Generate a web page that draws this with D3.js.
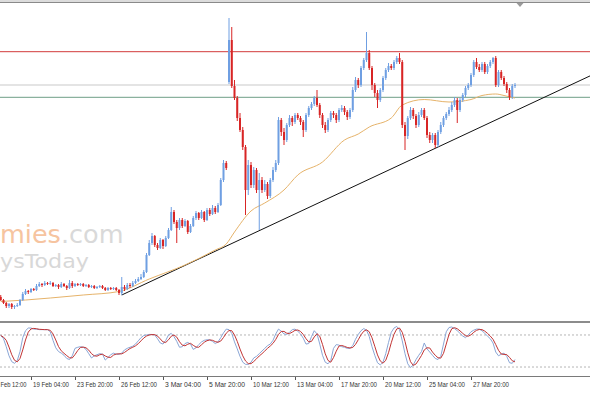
<!DOCTYPE html>
<html><head><meta charset="utf-8">
<script src="https://cdn.jsdelivr.net/npm/d3@7"></script>
<style>html,body{margin:0;padding:0;background:#fff;overflow:hidden}</style>
</head><body>
<svg id="c" width="590" height="393"></svg>
<script>
// ---- data (H4 bars; price units arbitrary) ----
const firstBar = "2015-02-17T08:00:00Z";
const opens = [
33,30,27,24,26,23,24,25,30,36, 39,38,41,40,44,46,45,47,46,47,
44,45,43,46,44,42,47,44,46,45, 46,44,45,43,44,42,43,44,42,40,
42,41,42,40,37,43,41,45,44,47, 49,51,53,58,75,87,94,85,82,90,
84,92,100,118,108,102,110,104,109,98, 104,112,117,112,118,110,120,116,122,118,
125,150,167,248,290,244,232,212,200,183, 140,165,145,160,140,150,140,146,134,150,
160,167,210,198,190,205,212,208,215,212, 208,200,215,222,226,232,225,215,205,200,
210,217,215,210,220,222,218,213,220,240, 250,245,262,270,277,262,245,237,230,240,
252,260,264,262,268,272,268,205,194,212, 220,214,205,215,220,212,195,190,195,185,
198,205,212,216,220,225,230,220,230,235, 242,245,255,268,263,260,266,258,264,268,
272,245,258,252,246,240,233,244];
const highs = [
35,31,28,27,27,25,27,31,38,41, 40,42,42,46,48,47,49,48,49,48,
46,46,48,47,45,50,49,47,47,47, 47,46,46,45,45,44,45,45,43,43,
43,43,43,41,53,45,47,47,49,51, 53,56,60,77,90,97,95,87,92,91,
94,102,123,120,110,112,112,111,110,106, 114,119,118,120,119,122,122,125,124,127,
152,170,169,312,303,250,234,217,203,185, 170,168,163,162,157,153,150,148,152,163,
170,213,212,202,207,215,214,217,217,214, 210,217,224,228,234,240,227,217,208,212,
219,219,217,222,225,224,220,222,243,253, 252,264,272,298,280,264,247,240,242,254,
262,267,266,270,274,277,270,208,214,223, 222,216,218,222,222,214,198,197,197,200,
208,214,218,223,228,233,232,232,237,244, 247,257,270,272,266,268,268,266,270,273,
274,260,260,254,248,242,246,247];
const lows = [
29,26,22,22,21,21,23,24,29,35, 36,37,39,39,43,43,44,45,45,43,
43,41,42,43,40,41,42,43,44,44, 43,43,42,42,41,41,42,41,39,39,
40,40,39,35,35,39,40,42,43,46, 48,50,52,57,74,85,83,80,81,81,
83,91,99,106,87,100,102,103,96,97, 103,110,110,111,108,109,114,115,116,117,
124,148,160,246,242,230,209,198,180,115, 135,142,142,137,100,137,138,131,132,148,
158,165,194,185,188,203,204,206,210,205, 193,198,213,220,224,223,212,202,197,198,
208,212,207,208,218,215,210,211,218,238, 242,243,260,268,260,240,233,222,228,238,
250,258,260,260,266,266,202,180,191,210, 211,202,203,213,210,192,187,187,182,183,
196,203,210,214,218,223,207,218,228,233, 240,243,253,261,258,258,256,256,262,266,
243,243,250,244,237,230,231,242];
const closes = [
30,27,24,26,23,24,25,30,36,39, 38,41,40,44,46,45,47,46,47,44,
45,43,46,44,42,47,44,46,45,46, 44,45,43,44,42,43,44,42,40,42,
41,42,40,37,43,41,45,44,47,49, 51,53,58,75,87,94,85,82,90,84,
92,100,118,108,102,110,104,109,98,104, 112,117,112,118,110,120,116,122,118,125,
150,167,162,290,244,232,212,200,183,140, 165,145,160,140,150,140,146,134,150,160,
167,210,198,190,205,212,208,215,212,208, 200,215,222,226,232,225,215,205,200,210,
217,215,210,220,222,218,213,220,240,250, 245,262,270,277,262,245,237,230,240,252,
260,264,262,268,272,268,205,194,212,220, 214,205,215,220,212,195,190,195,185,198,
205,212,216,220,225,230,220,230,235,242, 245,255,268,263,260,266,258,264,268,272,
245,258,252,246,240,233,244,245];

// moving average, read at these bars
const maBars   = [0,9,18,30,43,54,67,78,82,85,91,96,103,108,117,125,130,134,142,146,154,163,171,175,180,183,186,187];
const maValues = [28.5,30,32,35,38.5,51,65,80,86,98,119,127,140,155,168,190,196,203,212,225,230.5,228,230.5,234.5,236,234.5,232.5,232];

// stochastic %K per bar
const stochK = [
79,73,58,41,30,27,32,49,75,88, 93,93,91,91,90,90,90,90,86,70,
56,49,46,42,36,34,41,55,57,58, 57,53,45,37,41,43,45,44,33,38,
43,46,44,44,46,52,55,57,59,63, 69,75,79,80,81,81,80,73,65,63,
70,80,83,77,68,57,58,64,66,63, 53,56,62,67,70,71,71,68,64,67,
75,84,91,90,83,67,54,40,29,25, 25,29,37,40,45,50,55,60,63,70,
82,91,87,82,81,85,90,91,87,82, 74,63,64,77,88,82,63,42,29,26,
32,55,62,61,58,57,55,55,60,72, 81,88,92,89,77,58,42,28,24,29,
45,66,85,93,96,90,69,45,26,19, 24,34,42,49,65,54,48,42,36,34,
40,63,86,94,95,92,88,83,78,75, 80,86,89,91,91,88,83,78,73,65,
48,41,44,46,40,28,27,34];
const stochLevels = [80, 20];

const resistance = 278.3, midLevel = 245, support = 232.7;
const trendStart = {bar: 44, price: 35};
const trendEnd   = {bar: 187, price: 219};

const tickLabels = ["16 Feb 12:00","19 Feb 04:00","23 Feb 20:00","26 Feb 12:00","3 Mar 04:00","5 Mar 20:00",
  "10 Mar 12:00","13 Mar 04:00","17 Mar 20:00","20 Mar 12:00","25 Mar 04:00","27 Mar 20:00"];

const watermarkTop = ["mies", ".com"];
const watermarkBottom = "ysToday";

// ---- drawing ----
const W = 590, H = 393;
const svg = d3.select("#c");
const nBars = closes.length;
const x = d3.scaleLinear().domain([0, nBars - 1]).range([0.75, 515]);
const y = d3.scaleLinear().domain([8, 328]).range([322, 2]);
const ys = d3.scaleLinear().domain([0, 100]).range([377.7, 324.3]);

// bar times (skip weekends)
const fmt = d3.utcFormat("%-d %b %H:%M");
function stepBar(d, dir){ let n = new Date(d.getTime() + dir*4*3600e3);
  while (n.getUTCDay()===0 || n.getUTCDay()===6) n = new Date(n.getTime() + dir*4*3600e3); return n; }
const labelIndex = new Map();
let t0 = new Date(firstBar);
let t = t0; for (let i = 0; i <= 220; i++) { labelIndex.set(fmt(t), i); t = stepBar(t, 1); }
t = t0; for (let i = 0; i >= -20; i--) { labelIndex.set(fmt(t), i); t = stepBar(t, -1); }

// backgrounds and frame
svg.append("rect").attr("x",0).attr("y",0).attr("width",W).attr("height",H).attr("fill","#fff");
svg.append("rect").attr("x",0).attr("y",0).attr("width",W).attr("height",2).attr("fill","#dcdcdc");
svg.append("line").attr("x1",0).attr("x2",W).attr("y1",2.5).attr("y2",2.5).attr("stroke","#8a8a8a");

// watermark
const wm = svg.append("g").attr("font-family","'DejaVu Sans', sans-serif");
const wt = wm.append("text").attr("x",0).attr("y",243).attr("font-size",25.5);
wt.append("tspan").attr("fill","#f6c4a0").text(watermarkTop[0]);
wt.append("tspan").attr("fill","#d9d9d9").text(watermarkTop[1]);
wm.append("text").attr("x",0).attr("y",268).attr("font-size",20)
  .attr("textLength",89).attr("lengthAdjust","spacingAndGlyphs").attr("fill","#d8d8d8").text(watermarkBottom);

const main = svg.append("g");
main.append("defs").append("clipPath").attr("id","mc").append("rect").attr("x",0).attr("y",3).attr("width",W).attr("height",318);
const mg = main.append("g").attr("clip-path","url(#mc)");

// horizontal levels
[[resistance,"#d23a3a"],[midLevel,"#c9c9c9"],[support,"#6e9e86"]].forEach(([v,c])=>{
  mg.append("line").attr("x1",0).attr("x2",W).attr("y1",y(v)).attr("y2",y(v)).attr("stroke",c).attr("stroke-width",1);
});

// trend line (extended to right edge)
const slope = (trendEnd.price - trendStart.price)/(trendEnd.bar - trendStart.bar);
const barR = x.invert(W);
mg.append("line").attr("x1",x(trendStart.bar)).attr("y1",y(trendStart.price))
  .attr("x2",x(barR)).attr("y2",y(trendStart.price + slope*(barR - trendStart.bar)))
  .attr("stroke","#111").attr("stroke-width",1);

// moving average
const maPts = maBars.map((b,i)=>[b, maValues[i]]);
mg.append("path").datum(maPts)
  .attr("d", d3.line().x(d=>x(d[0])).y(d=>y(d[1])).curve(d3.curveMonotoneX))
  .attr("fill","none").attr("stroke","#e6b36a").attr("stroke-width",1);

// candles
const bull = "#6f9fe2", bear = "#d82525";
const cg = mg.append("g");
d3.range(nBars).forEach(i=>{
  const o = opens[i], c = closes[i];
  const col = c >= o ? bull : bear;
  const cx = x(i);
  cg.append("line").attr("x1",cx).attr("x2",cx).attr("y1",y(highs[i])).attr("y2",y(lows[i])).attr("stroke",col).attr("stroke-width",1);
  const top = y(Math.max(o,c)), bot = y(Math.min(o,c));
  cg.append("rect").attr("x",cx-1).attr("width",2).attr("y",top).attr("height",Math.max(1,bot-top)).attr("fill",col);
});

// separator
svg.append("rect").attr("x",0).attr("y",321).attr("width",W).attr("height",2).attr("fill","#8c8c8c");

// stochastic panel
const sg = svg.append("g");
stochLevels.forEach(l=>{
  sg.append("line").attr("x1",0).attr("x2",W).attr("y1",ys(l)).attr("y2",ys(l))
    .attr("stroke","#b5b5b5").attr("stroke-dasharray","2,2");
});
const stochD = stochK.map((v,i)=>d3.mean(stochK.slice(Math.max(0,i-2), i+1)));
const sline = d3.line().x((d,i)=>x(i)).y(d=>ys(d));
sg.append("path").datum(stochK).attr("d",sline).attr("fill","none").attr("stroke","#8aa6d6").attr("stroke-width",1);
sg.append("path").datum(stochD).attr("d",sline).attr("fill","none").attr("stroke","#c23434").attr("stroke-width",1);
svg.append("line").attr("x1",0).attr("x2",W).attr("y1",376.5).attr("y2",376.5).attr("stroke","#7a7a7a");

// x axis labels
const ag = svg.append("g").attr("font-family","'Liberation Sans', Arial, sans-serif").attr("font-size",7).attr("fill","#333");
tickLabels.forEach(lab=>{
  const i = labelIndex.get(lab);
  if (i === undefined) return;
  const tx = x(i);
  if (tx + 2 < 0) {
    // label starts left of the window: only its visible tail is shown
    const tail = lab.replace(/^\d+ /, "");
    ag.append("text").attr("x",0.5).attr("y",387).attr("textLength",26).attr("lengthAdjust","spacingAndGlyphs").text(tail);
    return;
  }
  ag.append("line").attr("x1",tx+0.5).attr("x2",tx+0.5).attr("y1",377).attr("y2",380).attr("stroke","#555");
  ag.append("text").attr("x",tx+2).attr("y",387).attr("textLength",36).attr("lengthAdjust","spacingAndGlyphs").text(lab);
});

// shift marker
svg.append("path").attr("d", d3.line()([[516.5,3],[523.5,3],[520,7]])+"Z").attr("fill","#9a9a9a");
</script>
</body></html>
